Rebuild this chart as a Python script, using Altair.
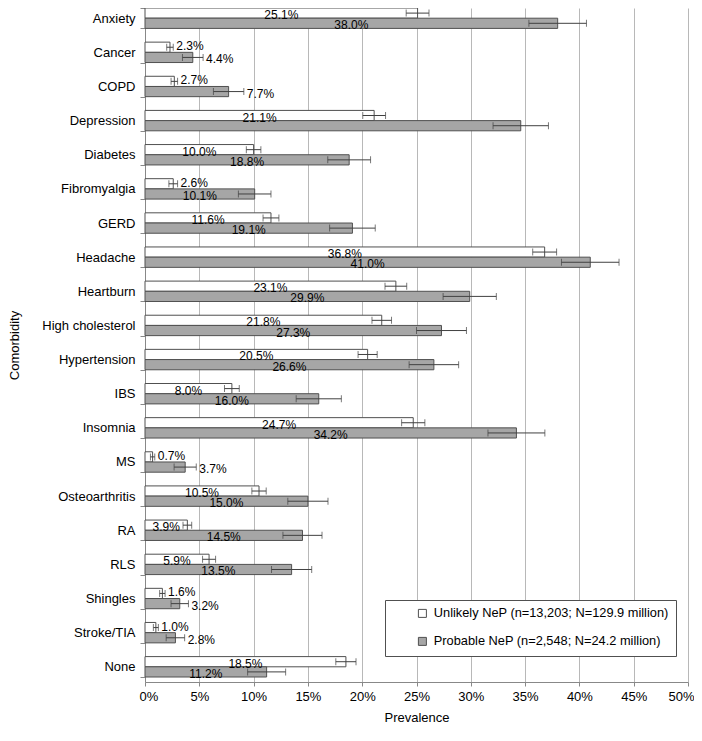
import altair as alt
import pandas as pd

categories = ["Anxiety", "Cancer", "COPD", "Depression", "Diabetes", "Fibromyalgia",
              "GERD", "Headache", "Heartburn", "High cholesterol", "Hypertension",
              "IBS", "Insomnia", "MS", "Osteoarthritis", "RA", "RLS", "Shingles",
              "Stroke/TIA", "None"]
unlikely = [25.1, 2.3, 2.7, 21.1, 10.0, 2.6, 11.6, 36.8, 23.1, 21.8, 20.5, 8.0,
            24.7, 0.7, 10.5, 3.9, 5.9, 1.6, 1.0, 18.5]
probable = [38.0, 4.4, 7.7, 34.6, 18.8, 10.1, 19.1, 41.0, 29.9, 27.3, 26.6, 16.0,
            34.2, 3.7, 15.0, 14.5, 13.5, 3.2, 2.8, 11.2]
unlikely_err = [1.05, 0.3, 0.3, 1.05, 0.67, 0.4, 0.73, 1.1, 1.0, 0.9, 0.88, 0.68,
                1.07, 0.2, 0.66, 0.4, 0.6, 0.25, 0.23, 0.93]
probable_err = [2.65, 0.95, 1.4, 2.55, 1.97, 1.5, 2.1, 2.65, 2.45, 2.3, 2.28, 2.08,
                2.62, 1.02, 1.85, 1.8, 1.85, 0.8, 0.85, 1.75]
series_names = ["Unlikely NeP (n=13,203; N=129.9 million)",
                "Probable NeP (n=2,548; N=24.2 million)"]
x_ticks = [0, 5, 10, 15, 20, 25, 30, 35, 40, 45, 50]

# labels drawn to the right of the error bar instead of inside the bar
outside_unlikely = ["Cancer", "COPD", "Fibromyalgia", "MS", "Shingles", "Stroke/TIA"]
outside_probable = ["Cancer", "COPD", "MS", "Shingles", "Stroke/TIA"]
unlabeled_probable = ["Depression"]

rows = []
for i, c in enumerate(categories):
    for k, (s, vals, errs, outs, skip) in enumerate([
        (series_names[0], unlikely, unlikely_err, outside_unlikely, []),
        (series_names[1], probable, probable_err, outside_probable, unlabeled_probable),
    ]):
        v = vals[i]
        e = errs[i]
        out = c in outs
        rows.append({
            "cat": c, "series": s, "k": k, "value": v,
            "lo": v - e, "hi": v + e,
            "label": "" if c in skip else f"{v:.1f}%",
            "pos": "out" if out else "in",
            "lx": (v + e) if out else v / 2,
        })
df = pd.DataFrame(rows)

FONT = "Liberation Sans"
GREY = "#a6a6a6"
EDGE = "#505050"

y_enc = alt.Y("cat:N", sort=categories, title="Comorbidity",
              scale=alt.Scale(paddingInner=0.4025, paddingOuter=0.0732, align=0),
              axis=alt.Axis(tickBand="extent", labelFontSize=13, labelFont=FONT,
                            labelColor="black", titleFont=FONT, titleFontSize=13,
                            titleFontWeight="normal", titleColor="black",
                            tickSize=5, tickColor="#888", domainColor="#888",
                            labelPadding=5, titlePadding=20, grid=False))
yoff = alt.YOffset("series:N", sort=series_names,
                   scale=alt.Scale(domain=series_names, paddingInner=0, paddingOuter=0))

base = alt.Chart(df)

bars = base.mark_bar(stroke=EDGE, strokeWidth=1).encode(
    y=y_enc,
    yOffset=yoff,
    x=alt.X("value:Q", title="Prevalence",
            scale=alt.Scale(domain=[0, 50], nice=False),
            axis=alt.Axis(values=x_ticks, labelExpr="datum.value + '%'",
                          labelFlush=True, labelFlushOffset=6,
                          labelFontSize=13, labelFont=FONT, labelColor="black",
                          titleFont=FONT, titleFontSize=13, titleFontWeight="normal",
                          titleColor="black", gridColor="#b8b8b8", grid=True,
                          tickSize=4, tickColor="#888", domainColor="#888",
                          labelPadding=4, titlePadding=8)),
    fill=alt.Fill("series:N", sort=series_names,
                  scale=alt.Scale(domain=series_names, range=["white", GREY]),
                  legend=alt.Legend(title=None, orient="none", legendX=240, legendY=592,
                                    strokeColor=EDGE, fillColor="white", padding=7,
                                    symbolOffset=24, symbolType="square", symbolSize=64,
                                    symbolStrokeColor=EDGE, symbolStrokeWidth=1,
                                    labelFontSize=12.8, labelFont=FONT, labelColor="black",
                                    labelLimit=400, rowPadding=14, labelOffset=5)),
)

err = base.mark_rule(color="#404040", strokeWidth=1).encode(
    y=alt.Y("cat:N", sort=categories), yOffset=yoff,
    x="lo:Q", x2="hi:Q")
cap_lo = base.mark_tick(color="#404040", thickness=1, size=7).encode(
    y=alt.Y("cat:N", sort=categories), yOffset=yoff, x="lo:Q")
cap_hi = base.mark_tick(color="#404040", thickness=1, size=7).encode(
    y=alt.Y("cat:N", sort=categories), yOffset=yoff, x="hi:Q")

txt_in = base.transform_filter(alt.datum.pos == "in").mark_text(
    font=FONT, fontSize=12, color="black", align="center", baseline="middle", dy=2
).encode(y=alt.Y("cat:N", sort=categories), yOffset=yoff, x="lx:Q", text="label:N")
txt_out_u = base.transform_filter(
    (alt.datum.pos == "out") & (alt.datum.k == 0)
).mark_text(
    font=FONT, fontSize=12, color="black", align="left", baseline="middle", dx=3, dy=-1
).encode(y=alt.Y("cat:N", sort=categories), yOffset=yoff, x="lx:Q", text="label:N")
txt_out_p = base.transform_filter(
    (alt.datum.pos == "out") & (alt.datum.k == 1)
).mark_text(
    font=FONT, fontSize=12, color="black", align="left", baseline="middle", dx=3, dy=2
).encode(y=alt.Y("cat:N", sort=categories), yOffset=yoff, x="lx:Q", text="label:N")

chart = alt.layer(bars, err, cap_lo, cap_hi, txt_in, txt_out_u, txt_out_p).properties(
    width=543, height=674,
    autosize=alt.AutoSizeParams(type="none"),
    padding={"left": 137, "top": 0, "right": 6, "bottom": 46},
).configure_view(stroke=None)

chart.save("out.html", embed_options={"renderer": "svg", "actions": False})
